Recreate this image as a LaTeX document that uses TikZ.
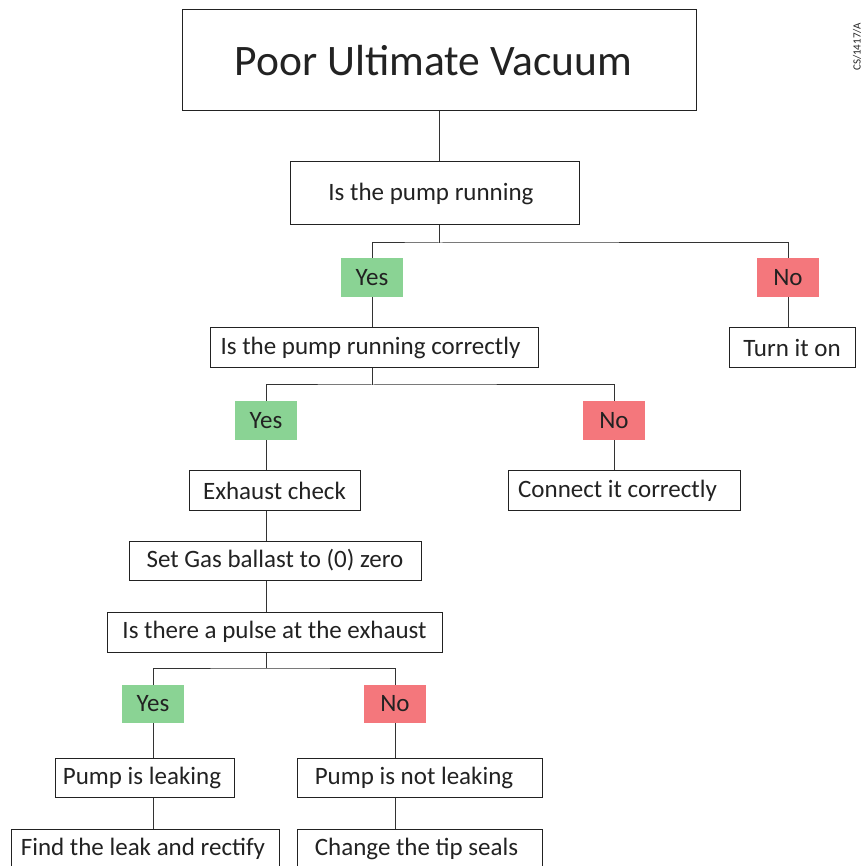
\documentclass[tikz,border=0pt]{standalone}
\usepackage{fontspec}
\setmainfont{Carlito}
\definecolor{yesgreen}{HTML}{8AD394}
\definecolor{nored}{HTML}{F4777C}
\definecolor{inkc}{HTML}{222222}
\definecolor{linec}{HTML}{333333}
\begin{document}
\begin{tikzpicture}[x=1pt,y=-1pt,
  box/.style={draw=inkc, line width=1pt, inner sep=0pt, text=inkc, font=\fontsize{25}{28}\selectfont},
  yesbox/.style={fill=yesgreen, inner sep=0pt, text=inkc, minimum width=62pt, minimum height=39pt, font=\fontsize{25}{28}\selectfont},
  nobox/.style={fill=nored, inner sep=0pt, text=inkc, minimum width=62pt, minimum height=39pt, font=\fontsize{25}{28}\selectfont},
  conn/.style={draw=linec, line width=1pt}]
\useasboundingbox (0,0) rectangle (868,866);
\begin{scope}
\clip (0,0) rectangle (868,866);
\node[box, minimum width=514pt, minimum height=101pt, font=\fontsize{43.5}{50}\selectfont] (title) at (439,60.5) {\hspace*{-11pt}Poor Ultimate Vacuum};
\node[box, minimum width=289pt, minimum height=63pt] (run) at (434.5,193.5) {\hspace*{-7pt}Is the pump running};
\node[yesbox] (yes1) at (372,277.5) {Yes};
\node[nobox] (no1) at (788,277.5) {No};
\node[box, minimum width=328pt, minimum height=40pt] (correctly) at (374,348) {\hspace*{-7pt}Is the pump running correctly};
\node[box, minimum width=126pt, minimum height=40pt] (turn) at (792,348) {Turn it on};
\node[yesbox] (yes2) at (266,420.5) {Yes};
\node[nobox] (no2) at (614,420.5) {No};
\node[box, minimum width=171pt, minimum height=40pt] (exhaust) at (274.5,491) {Exhaust check};
\node[box, minimum width=232pt, minimum height=40pt] (connect) at (624,491) {\hspace*{-13pt}Connect it correctly};
\node[box, minimum width=292pt, minimum height=39pt] (gas) at (275,560.5) {Set Gas ballast to (0) zero};
\node[box, minimum width=335pt, minimum height=40pt] (pulse) at (274.5,632) {Is there a pulse at the exhaust};
\node[yesbox, minimum height=38pt] (yes3) at (153,704) {Yes};
\node[nobox, minimum height=38pt] (no3) at (395,704) {No};
\node[box, minimum width=179pt, minimum height=39pt] (leak) at (144.5,777.5) {\hspace*{-5pt}Pump is leaking};
\node[box, minimum width=245pt, minimum height=39pt] (notleak) at (419.5,777.5) {\hspace*{-11pt}Pump is not leaking};
\node[box, minimum width=268pt, minimum height=40pt] (find) at (145,849) {\hspace*{-4pt}Find the leak and rectify};
\node[box, minimum width=245pt, minimum height=40pt] (change) at (419.5,849) {\hspace*{-6pt}Change the tip seals};
\node[font=\fontsize{11}{13}\selectfont, text=inkc, rotate=90] (code) at (857,47) {CS/1417/A};

\coordinate (b1) at (439,243);
\coordinate (b2) at (372,385);
\coordinate (b3) at (266,668);

\draw[conn] (title.south) -- (title.south |- run.north);
\draw[conn] (title.south |- run.south) -- (b1);
\draw[conn] (yes1.north) |- (b1) -| (no1.north);
\draw[conn] (yes1.south) -- (yes1.south |- correctly.north);
\draw[conn] (no1.south) -- (no1.south |- turn.north);
\draw[conn] (yes1.south |- correctly.south) -- (b2);
\draw[conn] (yes2.north) |- (b2) -| (no2.north);
\draw[conn] (yes2.south) -- (yes2.south |- exhaust.north);
\draw[conn] (no2.south) -- (no2.south |- connect.north);
\draw[conn] (yes2.south |- exhaust.south) -- (yes2.south |- gas.north);
\draw[conn] (yes2.south |- gas.south) -- (yes2.south |- pulse.north);
\draw[conn] (yes2.south |- pulse.south) -- (b3);
\draw[conn] (yes3.north) |- (b3) -| (no3.north);
\draw[conn] (yes3.south) -- (yes3.south |- leak.north);
\draw[conn] (yes3.south |- leak.south) -- (yes3.south |- find.north);
\draw[conn] (no3.south) -- (no3.south |- notleak.north);
\draw[conn] (no3.south |- notleak.south) -- (no3.south |- change.north);
\end{scope}
\end{tikzpicture}
\end{document}
